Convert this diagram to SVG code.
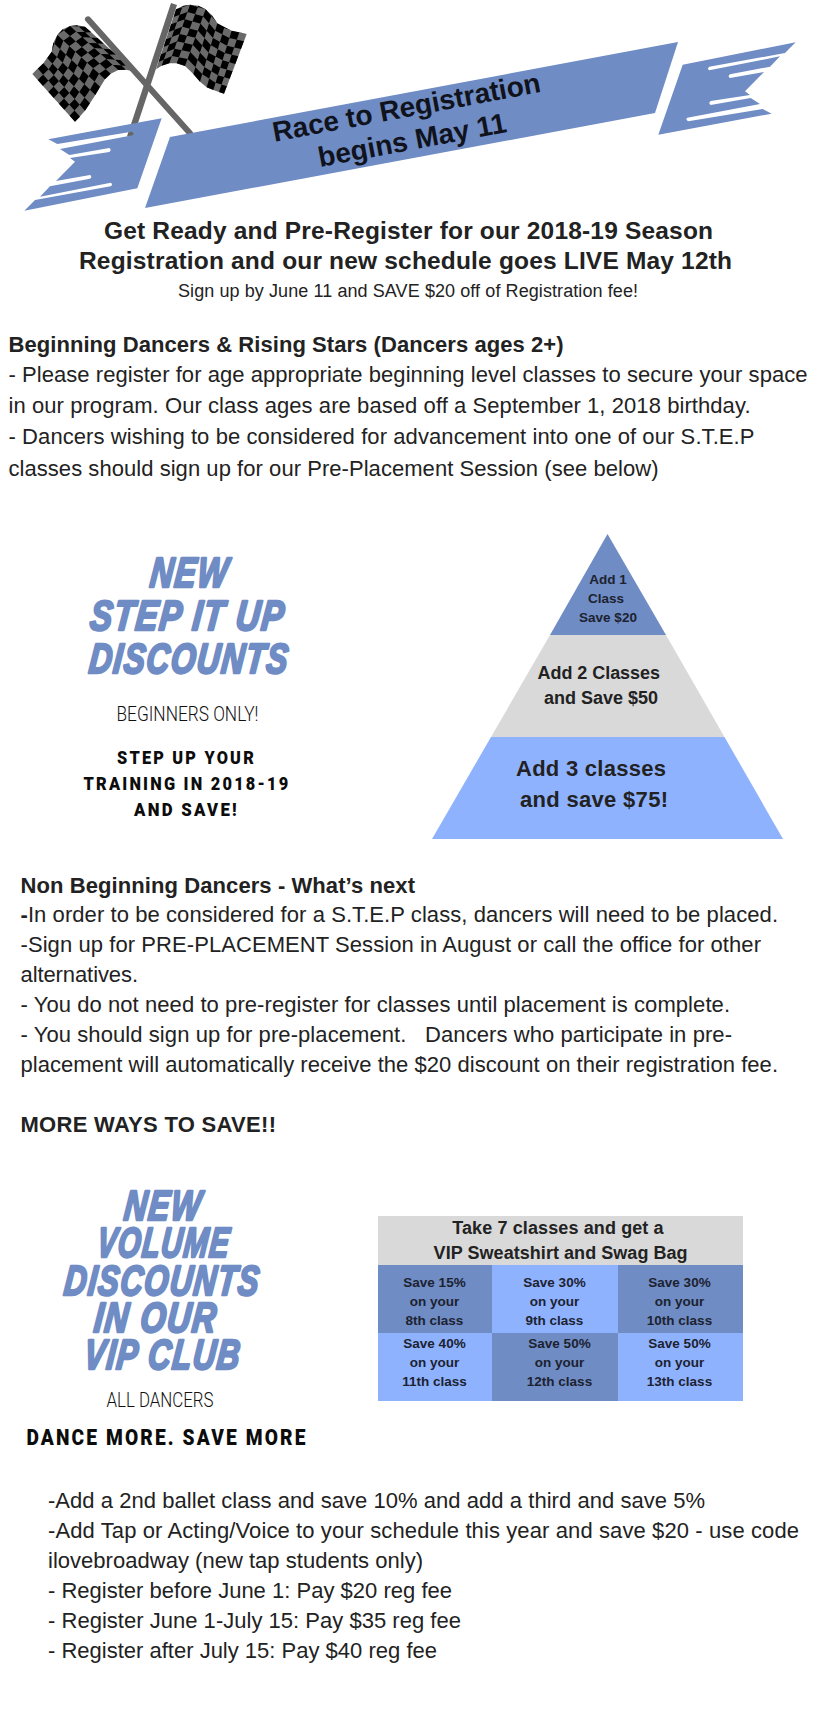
<svg xmlns="http://www.w3.org/2000/svg" width="816" height="1728" viewBox="0 0 816 1728">
<style>
text{font-family:"Liberation Sans",Arial,sans-serif;fill:#222}
.b{font-weight:700}
.body{font-size:22px}
.h1{font-size:24.5px;font-weight:700}
.sub{font-size:18px}
.band{fill:#6f8cc4}
.navy{font-size:28px;font-weight:700;fill:#10131c}
.brush{font-family:"Liberation Sans",Arial,sans-serif;font-weight:700;font-style:italic;fill:#6f8cc4;stroke:#6f8cc4;stroke-width:2.6px;stroke-linejoin:round;font-size:42px;letter-spacing:2px}
.thin{font-family:Roboto,"Liberation Sans",sans-serif;font-weight:300;font-size:20px;fill:#111}
.heavy{font-family:Roboto,"Liberation Sans",sans-serif;font-weight:900;font-size:18.5px;fill:#0c0c0c;letter-spacing:2.5px}
.cell{font-size:13.5px;font-weight:700;fill:#1c2230;text-anchor:middle}
.p2{font-size:18px;font-weight:700}
.p3{font-size:22px;font-weight:700}
.t1{font-size:18px;font-weight:700}
.pole{stroke:#666;fill:none}
</style>
<rect width="816" height="1728" fill="#fff"/>

<g id="flags" transform="translate(20 0) scale(.33333)">
<path class="pole" stroke-width="19" d="M462 12L330 412"/>
<path fill="#6a6a6a" d="M195 80L172 76 150 78 128 88 112 105 100 128 95 155 82 175 70 190 37 222 165 365 195 332 226 285 255 238 272 221 295 210 318 209 345 215Z"/>
<path fill="#000" fill-rule="evenodd" d="M195 80L150 78 112 105 95 155 70 190 37 222 53 240 86 208 111 171 130 122 168 95 214 97ZM233 114L186 111 148 138 128 188 101 226 69 258 85 276 117 243 144 204 166 155 204 128 251 131ZM270 148L223 144 184 172 161 220 133 261 101 294 117 311 148 279 177 236 201 188 241 161 289 164ZM308 181L259 177 219 205 193 253 164 297 133 329 149 347 179 314 210 269 237 221 277 194 326 198ZM172 76L150 78 295 210 318 209ZM128 88L112 105 255 238 272 221ZM100 128L95 155 226 285 240 260ZM82 175L70 190 195 332 210 310ZM54 206L37 222 165 365 180 350Z"/>
<path fill="#6a6a6a" d="M468 28L488 18 510 14 535 17 557 28 575 45 592 70 612 85 635 92 658 97 680 102 612 281 597 276 580 270 560 262 540 245 520 222 495 198 470 190 448 190 425 197 408 208Z"/>
<path fill="#000" fill-rule="evenodd" d="M468 28L510 14 557 28 592 70 635 92 680 102 672 124 628 114 586 92 549 49 502 36 461 51ZM453 73L495 58 542 71 579 114 621 137 663 147 655 169 614 159 573 136 534 92 487 80 446 96ZM438 118L479 102 526 113 566 158 608 181 646 192 638 214 601 203 560 179 518 134 471 124 431 141ZM423 163L464 146 511 156 553 201 594 226 629 236 621 259 587 248 547 223 503 177 456 168 416 186ZM488 18L510 14 448 190 425 197ZM535 17L557 28 495 198 470 190ZM575 45L592 70 540 245 520 222ZM612 85L635 92 580 270 560 262ZM658 97L680 102 612 281 597 276Z"/>
<path class="pole" stroke-width="18" stroke-linecap="round" d="M204 58L510 400"/>
</g>

<defs>
<path id="tail" class="band" d="M425 355L85 418 112 432 335 395Q345 400 338 406L120 447 148 465 268 444Q276 450 268 456L150 474 165 485 108 543 210 525Q218 530 210 536L90 559 60 590 272 548Q280 553 272 559L45 600 13 632 352 565Z"/>
</defs>

<g id="banner">
<path class="band" d="M678 42L655 113 145 208 170 137Z"/>
<use href="#tail" transform="translate(20 0) scale(.33333)"/>
<use href="#tail" transform="translate(820 253) rotate(180) translate(20 0) scale(.33333)"/>
<text class="navy" transform="translate(274.5 141.7) rotate(-10.6)" textLength="272">Race to Registration</text>
<text class="navy" transform="translate(320 167) rotate(-10.6)" textLength="191">begins May 11</text>
</g>

<g id="intro">
<text class="h1" x="104" y="239.3" textLength="609">Get Ready and Pre-Register for our 2018-19 Season</text>
<text class="h1" x="79" y="269.3" textLength="653">Registration and our new schedule goes LIVE May 12th</text>
<text class="sub" x="178" y="296.7" textLength="460">Sign up by June 11 and SAVE $20 off of Registration fee!</text>
</g>

<g id="beginning">
<text class="body b" x="8.5" y="351.7" textLength="555">Beginning Dancers &amp; Rising Stars (Dancers ages 2+)</text>
<text class="body" x="8.5" y="382.3" textLength="799">- Please register for age appropriate beginning level classes to secure your space</text>
<text class="body" x="8.5" y="413.3" textLength="742">in our program. Our class ages are based off a September 1, 2018 birthday.</text>
<text class="body" x="8.5" y="444.3" textLength="746">- Dancers wishing to be considered for advancement into one of our S.T.E.P</text>
<text class="body" x="8.5" y="475.7" textLength="650">classes should sign up for our Pre-Placement Session (see below)</text>
</g>

<g id="step-discounts">
<text class="brush" transform="translate(149 587) skewX(-6)" textLength="79" lengthAdjust="spacingAndGlyphs">NEW</text>
<text class="brush" transform="translate(89 630) skewX(-6)" textLength="195" lengthAdjust="spacingAndGlyphs">STEP IT UP</text>
<text class="brush" transform="translate(88 673) skewX(-6)" textLength="200" lengthAdjust="spacingAndGlyphs">DISCOUNTS</text>
<text class="thin" x="116.5" y="721" textLength="142" lengthAdjust="spacingAndGlyphs">BEGINNERS ONLY!</text>
<text class="heavy" x="117" y="764" textLength="139" lengthAdjust="spacingAndGlyphs">STEP UP YOUR</text>
<text class="heavy" x="83.5" y="790" textLength="207" lengthAdjust="spacingAndGlyphs">TRAINING IN 2018-19</text>
<text class="heavy" x="134" y="816" textLength="105" lengthAdjust="spacingAndGlyphs">AND SAVE!</text>
</g>

<g id="pyramid" transform="translate(-1 0)">
<path fill="#6f8cc4" d="M608.5 534L667 635H551Z"/>
<path fill="#d9d9d9" d="M551 635H667L725.5 737H492Z"/>
<path fill="#8fb2ff" d="M492 737H725.5L784 839H433Z"/>
<text class="cell" x="609" y="584.3">Add 1</text>
<text class="cell" x="607" y="603.3">Class</text>
<text class="cell" x="609" y="622.3">Save $20</text>
<text class="p2" x="538.5" y="679.3" textLength="122.5">Add 2 Classes</text>
<text class="p2" x="545" y="704.3" textLength="114">and Save $50</text>
<text class="p3" x="517" y="776" textLength="150">Add 3 classes</text>
<text class="p3" x="521" y="806.7" textLength="148">and save $75!</text>
</g>

<g id="non-beginning">
<text class="body b" x="20.5" y="892.7" textLength="394.5">Non Beginning Dancers - What’s next</text>
<text class="body" x="20.5" y="922.3" textLength="757.5"><tspan class="b">-</tspan>In order to be considered for a S.T.E.P class, dancers will need to be placed.</text>
<text class="body" x="20.5" y="952.3" textLength="740.5">-Sign up for PRE-PLACEMENT Session in August or call the office for other</text>
<text class="body" x="20.5" y="982.3" textLength="117.5">alternatives.</text>
<text class="body" x="20.5" y="1012.3" textLength="709.5">- You do not need to pre-register for classes until placement is complete.</text>
<text class="body" x="20.5" y="1042.3" textLength="711.5">- You should sign up for pre-placement. &#160; Dancers who participate in pre-</text>
<text class="body" x="20.5" y="1072.3" textLength="757.5">placement will automatically receive the $20 discount on their registration fee.</text>
<text class="body b" x="20.5" y="1132.3" textLength="255.5">MORE WAYS TO SAVE!!</text>
</g>

<g id="volume-discounts">
<text class="brush" transform="translate(123 1220) skewX(-6)" textLength="78" lengthAdjust="spacingAndGlyphs">NEW</text>
<text class="brush" transform="translate(96 1257) skewX(-6)" textLength="133" lengthAdjust="spacingAndGlyphs">VOLUME</text>
<text class="brush" transform="translate(63 1295) skewX(-6)" textLength="196" lengthAdjust="spacingAndGlyphs">DISCOUNTS</text>
<text class="brush" transform="translate(93 1332) skewX(-6)" textLength="123" lengthAdjust="spacingAndGlyphs">IN OUR</text>
<text class="brush" transform="translate(83 1369) skewX(-6)" textLength="157" lengthAdjust="spacingAndGlyphs">VIP CLUB</text>
<text class="thin" x="106.5" y="1407" textLength="107" lengthAdjust="spacingAndGlyphs">ALL DANCERS</text>
<text class="heavy" x="26.5" y="1445" textLength="281" lengthAdjust="spacingAndGlyphs" style="font-size:22.5px">DANCE MORE. SAVE MORE</text>
</g>

<g id="vip-table">
<rect x="378" y="1216" width="365" height="49" fill="#d9d9d9"/>
<rect x="378" y="1265" width="114" height="68" fill="#6f8cc4"/>
<rect x="492" y="1265" width="126" height="68" fill="#8fb2ff"/>
<rect x="618" y="1265" width="125" height="68" fill="#6f8cc4"/>
<rect x="378" y="1333" width="114" height="68" fill="#8fb2ff"/>
<rect x="492" y="1333" width="126" height="68" fill="#6f8cc4"/>
<rect x="618" y="1333" width="125" height="68" fill="#8fb2ff"/>
<text class="t1" x="452.2" y="1234" textLength="211.4">Take 7 classes and get a</text>
<text class="t1" x="433.6" y="1259" textLength="254">VIP Sweatshirt and Swag Bag</text>
<text class="cell" x="434.5" y="1286.7">Save 15%</text><text class="cell" x="434.5" y="1306">on your</text><text class="cell" x="434.5" y="1324.7">8th class</text>
<text class="cell" x="554.5" y="1286.7">Save 30%</text><text class="cell" x="554.5" y="1306">on your</text><text class="cell" x="554.5" y="1324.7">9th class</text>
<text class="cell" x="679.5" y="1286.7">Save 30%</text><text class="cell" x="679.5" y="1306">on your</text><text class="cell" x="679.5" y="1324.7">10th class</text>
<text class="cell" x="434.5" y="1347.7">Save 40%</text><text class="cell" x="434.5" y="1366.7">on your</text><text class="cell" x="434.5" y="1385.7">11th class</text>
<text class="cell" x="559.5" y="1347.7">Save 50%</text><text class="cell" x="559.5" y="1366.7">on your</text><text class="cell" x="559.5" y="1385.7">12th class</text>
<text class="cell" x="679.5" y="1347.7">Save 50%</text><text class="cell" x="679.5" y="1366.7">on your</text><text class="cell" x="679.5" y="1385.7">13th class</text>
</g>

<g id="more-ways">
<text class="body" x="48" y="1508.3" textLength="657">-Add a 2nd ballet class and save 10% and add a third and save 5%</text>
<text class="body" x="48" y="1538.3" textLength="751">-Add Tap or Acting/Voice to your schedule this year and save $20 - use code</text>
<text class="body" x="48" y="1568.3" textLength="375">ilovebroadway (new tap students only)</text>
<text class="body" x="48" y="1598.3" textLength="404">- Register before June 1: Pay $20 reg fee</text>
<text class="body" x="48" y="1628.3" textLength="413">- Register June 1-July 15: Pay $35 reg fee</text>
<text class="body" x="48" y="1658.3" textLength="389">- Register after July 15: Pay $40 reg fee</text>
</g>
</svg>
